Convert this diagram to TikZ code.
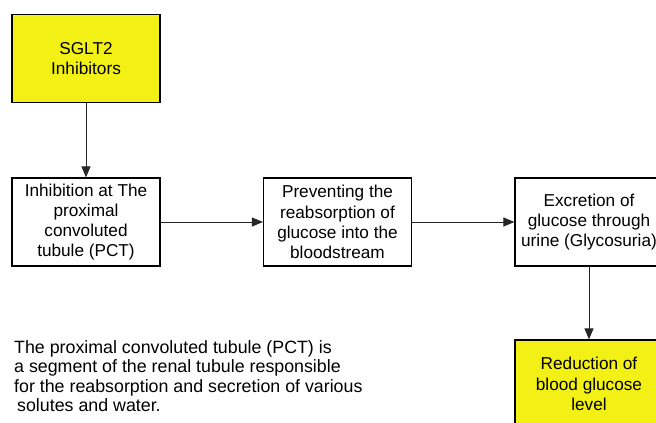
\documentclass[tikz,border=0pt]{standalone}
\usepackage{fontspec}
\setmainfont{Liberation Sans}
\usetikzlibrary{arrows.meta}
\definecolor{boxyellow}{RGB}{242,240,20}
\tikzset{
  flowbox/.style={draw=black, line width=1.2pt, rectangle, minimum width=148pt, minimum height=88pt,
    align=center, inner sep=2pt, font=\fontsize{17.2}{20.2}\selectfont},
  hibox/.style={flowbox, fill=boxyellow},
  plainbox/.style={flowbox, fill=white},
  conn/.style={draw=black!85, line width=0.9pt, -{Triangle[width=9pt,length=11pt]}},
  note/.style={align=left, anchor=north west, inner sep=0pt, font=\fontsize{17.8}{19.6}\selectfont}
}
\begin{document}
\begin{tikzpicture}[x=1pt,y=-1pt]
\useasboundingbox (0,0) rectangle (656,423);
\fill[white] (0,0) rectangle (656,423);
\begin{scope}
\clip (0,0) rectangle (656,423);
\node[hibox] (a) at (86,58.5) {SGLT2\\Inhibitors};
\node[plainbox] (b) at (86,222) {Inhibition at The\\proximal\\convoluted\\tubule (PCT)};
\node[plainbox] (c) at (337.5,222) {Preventing the\\reabsorption of\\glucose into the\\bloodstream};
\node[plainbox] (d) at (589,222) {Excretion of\\glucose through\\urine (Glycosuria)};
\node[hibox] (e) at (589,384) {Reduction of\\blood glucose\\level};
\draw[conn] (a) -- (b);
\draw[conn] (b) -- (c);
\draw[conn] (c) -- (d);
\draw[conn] (d) -- (e);
\node[note] (n) at (14,340) {The proximal convoluted tubule (PCT) is\\a segment of the renal tubule responsible\\for the reabsorption and secretion of various\\\hspace*{3pt}solutes and water.};
\end{scope}
\end{tikzpicture}
\end{document}
